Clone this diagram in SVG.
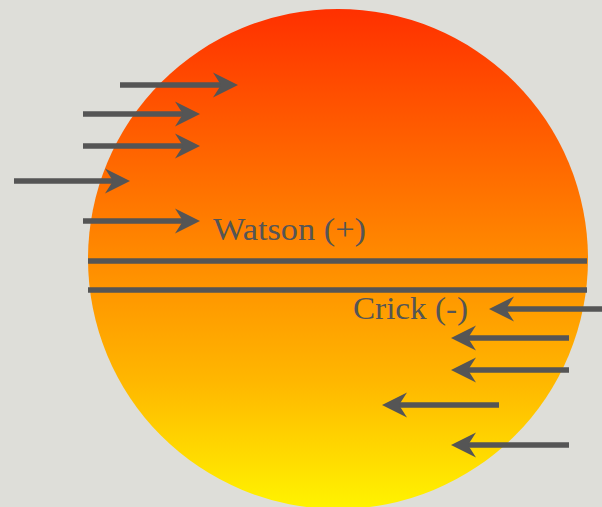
<svg xmlns="http://www.w3.org/2000/svg" width="602" height="507" viewBox="0 0 602 507">
  <defs>
    <linearGradient id="sun" x1="0" y1="0" x2="0" y2="1">
      <stop offset="0" stop-color="#ff3000"/>
      <stop offset="0.45" stop-color="#ff8200"/>
      <stop offset="0.75" stop-color="#ffb800"/>
      <stop offset="1" stop-color="#fff400"/>
    </linearGradient>
    <marker id="head" viewBox="0 -13 26 26" refX="8" refY="0" markerWidth="26" markerHeight="26" markerUnits="userSpaceOnUse" orient="auto">
      <path d="M0,-12.5 L25,0 L0,12.5 L8,0 Z" fill="#555555"/>
    </marker>
  </defs>
  <style>
    .arrow { stroke: #555555; stroke-width: 5.5; fill: none; marker-end: url(#head); }
    .strand { stroke: #555555; stroke-width: 5.5; }
    .label { font-family: "Liberation Serif", "DejaVu Serif", serif; font-size: 32px; fill: #555555; }
  </style>
  <rect x="0" y="0" width="602" height="507" fill="#dedeD9"/>
  <g id="circle">
    <circle cx="338" cy="259" r="250" fill="url(#sun)"/>
  </g>
  <g id="strands">
    <line class="strand" x1="88" y1="261" x2="587" y2="261"/>
    <line class="strand" x1="88" y1="290" x2="587" y2="290"/>
  </g>
  <g id="watson">
    <text class="label" x="213" y="240" textLength="153" lengthAdjust="spacingAndGlyphs">Watson (+)</text>
  </g>
  <g id="crick">
    <text class="label" x="353" y="319" textLength="115" lengthAdjust="spacingAndGlyphs">Crick (-)</text>
  </g>
  <g id="connectors">
    <line class="arrow" x1="120" y1="85" x2="221" y2="85"/>
    <line class="arrow" x1="83" y1="114" x2="183" y2="114"/>
    <line class="arrow" x1="83" y1="146" x2="183" y2="146"/>
    <line class="arrow" x1="14" y1="181" x2="113" y2="181"/>
    <line class="arrow" x1="83" y1="221" x2="183" y2="221"/>
    <line class="arrow" x1="602" y1="309" x2="506" y2="309"/>
    <line class="arrow" x1="569" y1="338" x2="468" y2="338"/>
    <line class="arrow" x1="569" y1="370" x2="468" y2="370"/>
    <line class="arrow" x1="499" y1="405" x2="399" y2="405"/>
    <line class="arrow" x1="569" y1="445" x2="468" y2="445"/>
  </g>
</svg>
